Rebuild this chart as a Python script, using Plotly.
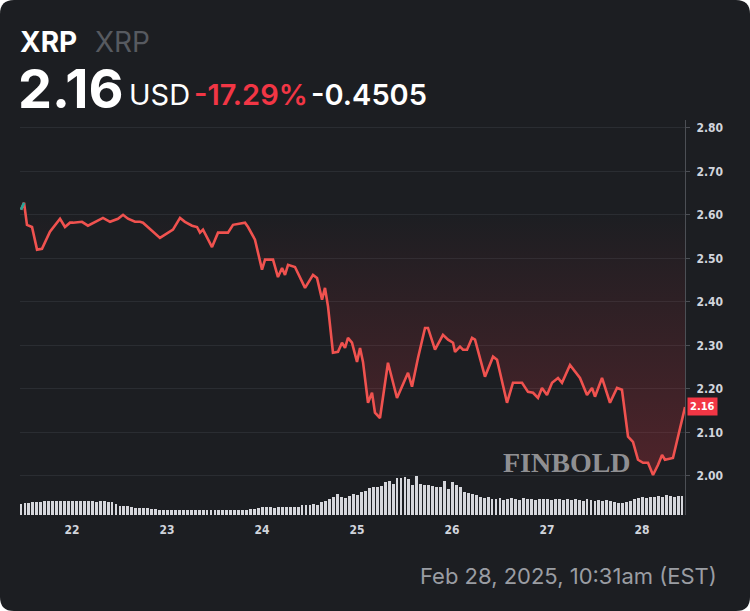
import plotly.graph_objects as go

# ---------------- data ----------------
SYMBOL = "XRP"
LAST_PRICE = "2.16"
CHANGE_PCT = "-17.29%"
CHANGE_ABS = "-0.4505"
TIMESTAMP = "Feb 28, 2025, 10:31am (EST)"
OPEN_PRICE = 2.61

# time in days of February 2025 (fractional)
DAYS = [21.463, 21.495, 21.526, 21.579, 21.632, 21.684, 21.768, 21.874, 21.926, 21.979,
        22.011, 22.105, 22.168, 22.242, 22.326, 22.400, 22.484, 22.537, 22.589, 22.663,
        22.716, 22.747, 22.926, 23.063, 23.137, 23.189, 23.263, 23.316, 23.347, 23.379,
        23.474, 23.537, 23.579, 23.642, 23.695, 23.821, 23.853, 23.926, 24.000, 24.032,
        24.116, 24.168, 24.211, 24.242, 24.274, 24.347, 24.453, 24.537, 24.579, 24.632,
        24.663, 24.695, 24.747, 24.800, 24.842, 24.874, 24.905, 24.947, 25.000, 25.032,
        25.063, 25.116, 25.158, 25.189, 25.242, 25.326, 25.421, 25.526, 25.537, 25.579,
        25.642, 25.716, 25.747, 25.821, 25.905, 25.958, 26.011, 26.032, 26.084, 26.116,
        26.158, 26.211, 26.242, 26.347, 26.432, 26.474, 26.579, 26.642, 26.737, 26.800,
        26.853, 26.905, 26.947, 27.000, 27.053, 27.116, 27.158, 27.242, 27.347, 27.421,
        27.474, 27.505, 27.579, 27.663, 27.737, 27.789, 27.853, 27.905, 27.958, 28.011,
        28.063, 28.116, 28.168, 28.211, 28.242, 28.326, 28.453]

PRICE = [2.612, 2.628, 2.577, 2.572, 2.520, 2.522, 2.561, 2.591, 2.572, 2.582,
         2.582, 2.584, 2.575, 2.584, 2.593, 2.584, 2.591, 2.600, 2.591, 2.584,
         2.584, 2.582, 2.547, 2.566, 2.593, 2.584, 2.575, 2.572, 2.559, 2.566,
         2.526, 2.559, 2.559, 2.559, 2.577, 2.582, 2.572, 2.543, 2.474, 2.497,
         2.497, 2.457, 2.478, 2.462, 2.485, 2.480, 2.432, 2.462, 2.455, 2.405,
         2.432, 2.389, 2.283, 2.285, 2.306, 2.294, 2.317, 2.306, 2.262, 2.294,
         2.262, 2.168, 2.191, 2.145, 2.133, 2.260, 2.179, 2.232, 2.237, 2.205,
         2.271, 2.340, 2.340, 2.290, 2.324, 2.313, 2.306, 2.285, 2.297, 2.290,
         2.290, 2.317, 2.313, 2.228, 2.274, 2.267, 2.168, 2.214, 2.214, 2.193,
         2.191, 2.179, 2.202, 2.186, 2.214, 2.225, 2.214, 2.255, 2.225, 2.186,
         2.202, 2.182, 2.225, 2.168, 2.202, 2.198, 2.090, 2.078, 2.037, 2.030,
         2.030, 2.002, 2.025, 2.048, 2.037, 2.041, 2.158]

# hourly volume bars (relative units), starting at the first timestamp
VOL_START_DAY = 21.463
VOLUME = [110, 120, 120, 130, 130, 130, 140, 140, 140, 140, 140, 140,
          140, 140, 140, 140, 140, 140, 140, 130, 140, 140, 130, 130,
          110, 90, 90, 90, 80, 70, 70, 70, 70,
          60, 60, 50, 50, 50, 50, 50, 50, 50, 50, 50, 50, 50, 50,
          50, 50, 50, 50, 50, 50, 50, 50, 50, 50, 50, 60, 60,
          70, 80, 80, 80, 70, 80, 80, 80, 80, 80, 80,
          100, 100, 100, 110, 100,
          130, 140, 160, 180, 210,
          180, 170, 190, 210, 200, 230, 240,
          270, 280, 280, 290, 330, 340, 310,
          370, 370, 380, 360, 300, 390,
          310, 300, 300, 290, 280, 280, 340, 260, 330, 300, 280,
          230, 220, 210, 200, 180, 170, 180, 160, 160,
          170, 150, 160, 170, 160, 150, 170, 160, 160, 150, 160, 160,
          160, 150, 160, 160, 150, 160, 150, 160, 150, 140, 160, 150,
          140, 150, 140, 150, 140,
          130, 120, 120, 130, 140,
          160, 170, 180, 170, 180,
          180, 190, 180, 200, 190, 180, 190, 190]
VOL_TIMES = [VOL_START_DAY + i / 24 for i in range(len(VOLUME))]

Y_TICKS = [2.00, 2.10, 2.20, 2.30, 2.40, 2.50, 2.60, 2.70, 2.80]
X_TICKS = [22, 23, 24, 25, 26, 27, 28]
X_TICK_TEXT = ["22", "23", "24", "25", "26", "27", "28"]

# ---------------- styling / geometry ----------------
W, H = 750, 611
ML, MR, MT, MB = 20, 65, 120, 96
PW, PH = W - ML - MR, H - MT - MB
BG = "#1c1e22"
RED = "#f0524f"
RED_TXT = "#f23645"
GREEN = "#26a69a"


def px2x(px):
    return (px - ML) / PW


def py2y(py):
    return (H - MB - py) / PH


fig = go.Figure()

# baseline (open price) for the baseline-style fill
fig.add_trace(go.Scatter(x=[DAYS[0], DAYS[-1]], y=[OPEN_PRICE, OPEN_PRICE], mode="lines",
                         line=dict(width=0, color="rgba(0,0,0,0)"), hoverinfo="skip",
                         showlegend=False))
fig.add_trace(go.Scatter(x=DAYS, y=PRICE, mode="lines", fill="tonexty",
                         fillgradient=dict(type="vertical",
                                           colorscale=[[0, "rgba(242,54,69,0.24)"],
                                                       [1, "rgba(242,54,69,0.0)"]],
                                           start=2.0, stop=OPEN_PRICE),
                         line=dict(color=RED, width=2.6), showlegend=False))
fig.add_trace(go.Scatter(x=DAYS[:2], y=PRICE[:2], mode="lines",
                         line=dict(color=GREEN, width=2.6), showlegend=False))
fig.add_trace(go.Bar(x=VOL_TIMES, y=VOLUME, yaxis="y2", width=1 / 24 * 0.72,
                     marker=dict(color="#d6d7dc", line=dict(width=0)), showlegend=False))

# last price line
fig.add_shape(type="line", xref="paper", x0=0, x1=1, yref="y", y0=2.16, y1=2.16,
              line=dict(color="#5e2a2e", width=1), layer="below")

# rounded card background
x0, x1 = px2x(0), px2x(W)
yt, yb = py2y(0), py2y(H)
rx, ry = 14 / PW, 14 / PH
card = (f"M {x0+rx},{yt} L {x1-rx},{yt} Q {x1},{yt} {x1},{yt-ry} "
        f"L {x1},{yb+ry} Q {x1},{yb} {x1-rx},{yb} "
        f"L {x0+rx},{yb} Q {x0},{yb} {x0},{yb+ry} "
        f"L {x0},{yt-ry} Q {x0},{yt} {x0+rx},{yt} Z")
fig.add_shape(type="path", xref="paper", yref="paper", path=card,
              fillcolor=BG, line=dict(width=0), layer="below")

ann = []
FONT = "Inter, 'Open Sans', sans-serif"
ann.append(dict(text="<b>" + SYMBOL + "</b>", x=px2x(18), y=py2y(42), xanchor="left", yanchor="middle",
                font=dict(family=FONT, size=28, color="#ffffff")))
ann.append(dict(text=SYMBOL, x=px2x(93), y=py2y(42), xanchor="left", yanchor="middle",
                font=dict(family=FONT, size=28, color="#575a60")))
ann.append(dict(text="<b>" + LAST_PRICE + "</b>", x=px2x(16), y=py2y(88), xanchor="left", yanchor="middle",
                font=dict(family=FONT, size=54, color="#ffffff")))
ann.append(dict(text="USD", x=px2x(127), y=py2y(94), xanchor="left", yanchor="middle",
                font=dict(family=FONT, size=29, color="#ffffff", weight=400)))
ann.append(dict(text=CHANGE_PCT, x=px2x(192), y=py2y(94), xanchor="left", yanchor="middle",
                font=dict(family=FONT, size=29, color=RED_TXT, weight=600)))
ann.append(dict(text=CHANGE_ABS, x=px2x(309), y=py2y(94), xanchor="left", yanchor="middle",
                font=dict(family=FONT, size=29, color="#ffffff", weight=600)))
ann.append(dict(text=TIMESTAMP, x=px2x(719), y=py2y(576), xanchor="right", yanchor="middle",
                font=dict(family=FONT, size=22, color="#9a9da3")))
# watermark
ann.append(dict(text="<b>FINBOLD</b>", x=px2x(567), y=py2y(462), xanchor="center", yanchor="middle",
                font=dict(family="'Liberation Serif', serif", size=28, color="rgba(160,160,163,0.9)")))
# last price tag
ann.append(dict(text="<b>2.16</b>", xref="paper", x=1, xshift=2, yref="y", y=2.16,
                xanchor="left", yanchor="middle", bgcolor=RED_TXT, borderpad=2,
                font=dict(family="'Liberation Sans Narrow', 'DejaVu Sans Condensed', Roboto, sans-serif",
                          size=11, color="#ffffff")))
for a in ann:
    a.setdefault("xref", "paper")
    a.setdefault("yref", "paper")
    a["showarrow"] = False

TICKFONT = dict(family="'Liberation Sans Narrow', 'DejaVu Sans Condensed', Roboto, sans-serif",
                size=12, color="#d1d4dc", weight=700)

fig.update_layout(
    width=W, height=H,
    margin=dict(l=ML, r=MR, t=MT, b=MB, pad=0),
    paper_bgcolor="#ffffff",
    plot_bgcolor="rgba(0,0,0,0)",
    showlegend=False,
    annotations=ann,
    bargap=0,
    xaxis=dict(range=[21.4526, 28.4526], tickvals=X_TICKS, ticktext=X_TICK_TEXT,
               showgrid=False, zeroline=False, showline=False,
               ticks="outside", ticklen=4, tickcolor="rgba(0,0,0,0)",
               tickfont=TICKFONT),
    yaxis=dict(range=[1.910, 2.818], side="right", tickvals=Y_TICKS, tickformat=".2f",
               showgrid=True, gridcolor="#2a2d32", gridwidth=1, zeroline=False,
               showline=True, linecolor="#4c4f55", linewidth=1,
               ticks="outside", ticklen=4, tickcolor="#4c4f55",
               ticklabelstandoff=4, tickfont=TICKFONT),
    yaxis2=dict(overlaying="y", range=[0, PH * 10], visible=False, showgrid=False),
)

fig.write_html("out.html", config={"displayModeBar": False},
               post_script="document.body.style.margin='0';document.body.style.background='#ffffff';")
